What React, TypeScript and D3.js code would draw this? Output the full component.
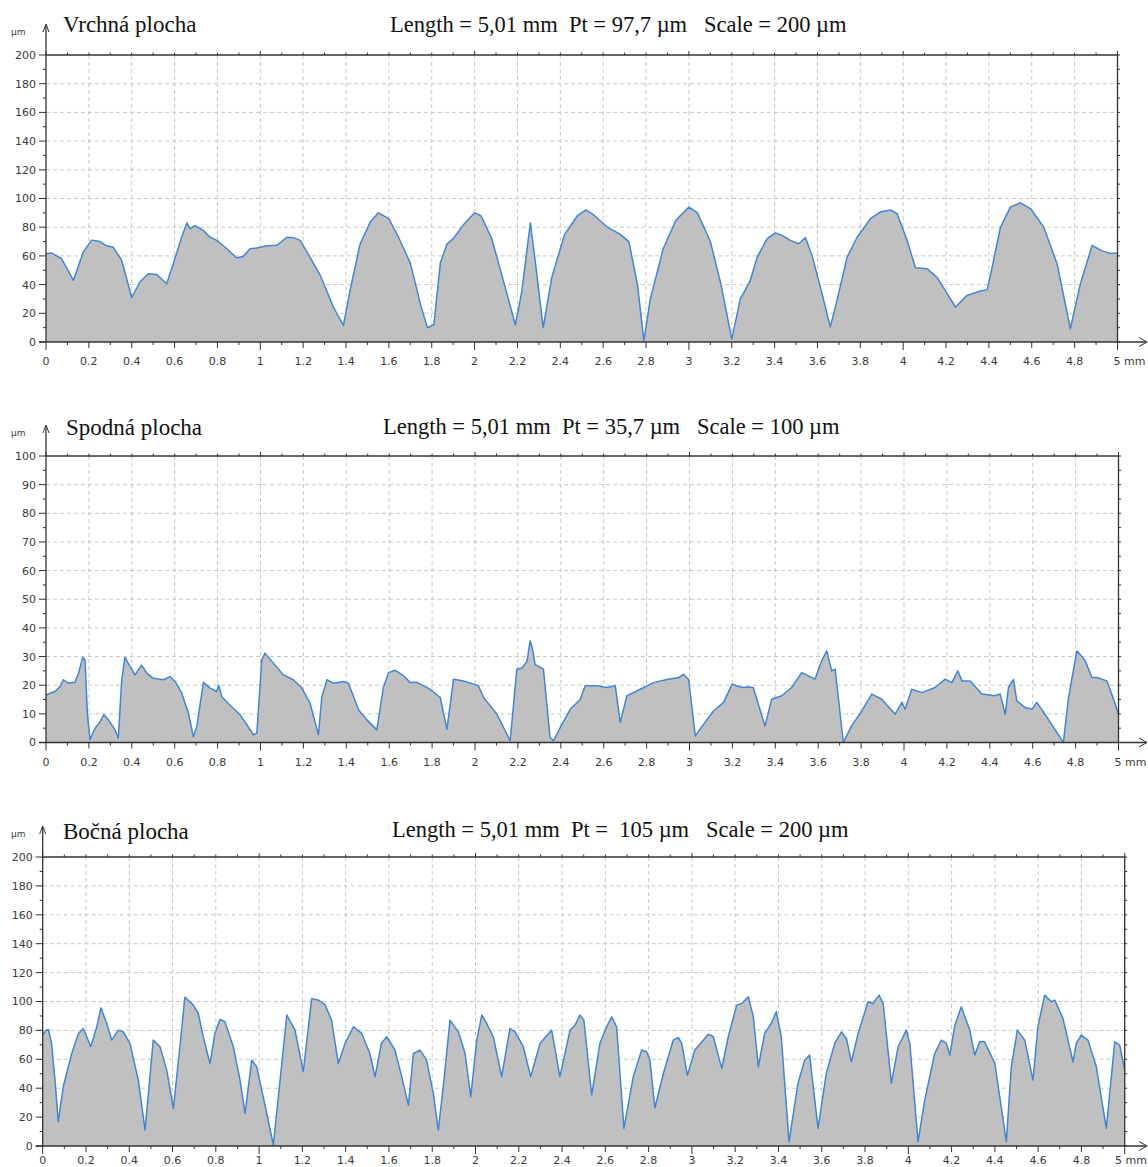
import React from "react";
import * as d3 from "d3";

// ---------- DATA ----------
const xTickLabels = ["0", "0.2", "0.4", "0.6", "0.8", "1", "1.2", "1.4", "1.6", "1.8", "2", "2.2", "2.4", "2.6", "2.8", "3", "3.2", "3.4", "3.6", "3.8", "4", "4.2", "4.4", "4.6", "4.8", "5 mm"];
const xTickValues = [0, 0.2, 0.4, 0.6, 0.8, 1, 1.2, 1.4, 1.6, 1.8, 2, 2.2, 2.4, 2.6, 2.8, 3, 3.2, 3.4, 3.6, 3.8, 4, 4.2, 4.4, 4.6, 4.8, 5];

const titles = ["Vrchná plocha", "Spodná plocha", "Bočná plocha"];
const infos = [
  "Length = 5,01 mm  Pt = 97,7 µm   Scale = 200 µm",
  "Length = 5,01 mm  Pt = 35,7 µm   Scale = 100 µm",
  "Length = 5,01 mm  Pt =  105 µm   Scale = 200 µm",
];
const scales = [200, 100, 200];

// profile points: [position mm, height µm]
const topProfile: [number, number][] = [
  [0, 61.5], [0.027, 62], [0.073, 58], [0.128, 43], [0.174, 62.7], [0.213, 71], [0.252, 70], [0.283, 67], [0.314, 66],
  [0.353, 57], [0.4, 31], [0.439, 42], [0.478, 47.6], [0.517, 47], [0.563, 40.6], [0.594, 54.6], [0.633, 73], [0.657, 83],
  [0.672, 79], [0.696, 81], [0.734, 77.8], [0.766, 73], [0.797, 70.8], [0.844, 65], [0.89, 58.5], [0.921, 59.7], [0.952, 65],
  [0.984, 65.5], [1.03, 67], [1.077, 67.4], [1.124, 73], [1.155, 72.7], [1.186, 70.8], [1.232, 59], [1.28, 46.5], [1.341, 24.4],
  [1.388, 11.6], [1.419, 36], [1.466, 68.5], [1.513, 83.6], [1.551, 90], [1.6, 86], [1.645, 73], [1.7, 55], [1.75, 25],
  [1.78, 10], [1.81, 12], [1.84, 55], [1.87, 68], [1.9, 72], [1.95, 82], [2.0, 90], [2.03, 88], [2.08, 72], [2.13, 45],
  [2.19, 12], [2.22, 35], [2.26, 83], [2.28, 60], [2.32, 10], [2.36, 45], [2.42, 75], [2.48, 88], [2.52, 92], [2.56, 88],
  [2.62, 80], [2.68, 75], [2.72, 70], [2.76, 40], [2.79, 1], [2.82, 30], [2.88, 65], [2.94, 85], [3.0, 94], [3.04, 90],
  [3.1, 70], [3.15, 40], [3.2, 2], [3.24, 30], [3.287, 43], [3.318, 59], [3.365, 72], [3.403, 76], [3.435, 74.3], [3.473, 70.8],
  [3.512, 68.5], [3.544, 72.7], [3.575, 60], [3.614, 38], [3.66, 10.5], [3.691, 29], [3.738, 59], [3.785, 73], [3.847, 86],
  [3.894, 90.6], [3.94, 92], [3.972, 89.4], [4.018, 71], [4.057, 51.8], [4.112, 51], [4.158, 45], [4.205, 33.7], [4.244, 24.4],
  [4.298, 32.5], [4.361, 35.5], [4.392, 36.5], [4.415, 52], [4.454, 80], [4.5, 94], [4.547, 97], [4.594, 93], [4.656, 80],
  [4.718, 54.6], [4.78, 9.3], [4.827, 40.7], [4.882, 67.4], [4.92, 64], [4.967, 61.6], [5.0, 62],
];

const bottomProfile: [number, number][] = [
  [0, 16.6], [0.019, 17.2], [0.042, 17.8], [0.065, 19.5], [0.081, 21.9], [0.104, 20.7], [0.135, 21], [0.151, 24], [0.171, 29.7],
  [0.182, 28.8], [0.193, 10], [0.205, 1], [0.229, 5], [0.252, 7.3], [0.27, 9.7], [0.291, 7.9], [0.322, 4.4], [0.337, 1.5],
  [0.353, 21.9], [0.368, 29.7], [0.392, 26.5], [0.415, 23.6], [0.446, 27], [0.47, 24.2], [0.5, 22.4], [0.547, 21.9], [0.578, 23],
  [0.602, 21.3], [0.633, 17.2], [0.664, 10.2], [0.687, 2], [0.703, 5.6], [0.734, 21], [0.765, 19], [0.796, 17.8], [0.805, 20],
  [0.82, 16], [0.858, 13], [0.905, 9.7], [0.967, 2.7], [0.983, 3.3], [1.006, 28.8], [1.021, 31.2], [1.06, 27.7], [1.107, 23.6],
  [1.153, 21.9], [1.193, 19], [1.231, 13.7], [1.27, 2.7], [1.286, 16], [1.31, 21.9], [1.34, 20.7], [1.387, 21.3], [1.41, 20.7],
  [1.457, 11.4], [1.496, 7.9], [1.542, 4.4], [1.573, 19.2], [1.597, 24.4], [1.628, 25.2], [1.667, 23.3], [1.698, 20.9],
  [1.729, 21], [1.79, 18.6], [1.838, 15.7], [1.869, 4.7], [1.9, 22.1], [1.946, 21.5], [2.016, 19.8], [2.04, 15.7], [2.102, 9.9],
  [2.164, 0.6], [2.195, 25.6], [2.219, 26], [2.243, 28.5], [2.257, 35.5], [2.27, 32], [2.28, 27.3], [2.319, 25.6], [2.35, 1.7],
  [2.366, 0.6], [2.397, 5.2], [2.444, 11.6], [2.49, 15], [2.514, 19.8], [2.568, 19.8], [2.615, 19.2], [2.654, 19.8], [2.677, 7],
  [2.708, 16.3], [2.77, 18.6], [2.833, 20.9], [2.895, 22], [2.95, 22.7], [2.972, 23.8], [2.996, 22], [3.027, 2.3], [3.066, 6.4],
  [3.112, 11], [3.159, 14], [3.198, 20.3], [3.245, 19.2], [3.274, 19.4], [3.297, 19.2], [3.352, 5.8], [3.383, 15.1], [3.43, 16.3],
  [3.476, 19.2], [3.523, 24.4], [3.585, 22.1], [3.616, 28.5], [3.64, 32], [3.663, 25], [3.679, 25.6], [3.694, 15.7], [3.717, 0],
  [3.756, 5.8], [3.803, 11], [3.85, 16.9], [3.896, 15.1], [3.959, 9.9], [3.99, 14], [4.005, 11.6], [4.036, 18.6], [4.083, 17.4],
  [4.145, 19.2], [4.192, 22.1], [4.223, 20.9], [4.251, 25], [4.27, 21.5], [4.309, 21.5], [4.363, 16.9], [4.425, 16.3],
  [4.448, 16.9], [4.472, 9.9], [4.487, 19.2], [4.51, 22], [4.526, 14.5], [4.565, 12.2], [4.596, 11.6], [4.619, 14], [4.673, 8.1],
  [4.743, 0], [4.767, 15.7], [4.806, 32], [4.845, 28.5], [4.876, 22.7], [4.899, 22.7], [4.946, 21.5], [4.977, 15.1], [5.0, 9.9],
];

const sideProfile: [number, number][] = [
  [0, 76.7], [0.015, 80], [0.026, 80.6], [0.041, 71], [0.057, 45.6], [0.072, 16.8], [0.095, 41], [0.134, 64], [0.165, 77.9],
  [0.188, 81.3], [0.222, 68.7], [0.25, 82.5], [0.269, 95.6], [0.296, 84.8], [0.319, 73.3], [0.349, 80.2], [0.372, 79], [0.403, 71],
  [0.442, 45.6], [0.473, 11], [0.511, 73.3], [0.542, 68.7], [0.573, 52.5], [0.604, 26], [0.634, 68.7], [0.657, 103], [0.673, 100.9],
  [0.696, 97.5], [0.719, 91.7], [0.742, 75.6], [0.773, 57], [0.796, 77.9], [0.819, 87.6], [0.842, 86], [0.881, 68.7], [0.912, 45.6],
  [0.935, 22.6], [0.966, 59.4], [0.989, 54.8], [1.019, 34.1], [1.066, 0.7], [1.089, 34.1], [1.128, 90.6], [1.166, 80.2],
  [1.204, 51.4], [1.243, 102], [1.274, 101], [1.304, 98], [1.335, 87], [1.366, 57], [1.397, 71], [1.436, 82.5], [1.474, 77.9],
  [1.512, 64], [1.536, 48], [1.565, 71], [1.59, 75.6], [1.628, 66.4], [1.659, 48], [1.69, 28.3], [1.713, 64], [1.744, 66.4],
  [1.774, 59.4], [1.805, 36.4], [1.828, 11], [1.851, 41], [1.882, 87], [1.921, 79], [1.952, 64], [1.978, 34.1], [2.006, 73.3],
  [2.029, 90.6], [2.052, 84.8], [2.082, 75.6], [2.121, 48], [2.159, 81.3], [2.183, 79], [2.221, 68.7], [2.255, 48], [2.298, 71],
  [2.352, 80.2], [2.39, 48], [2.437, 80.2], [2.46, 83.6], [2.483, 90.6], [2.501, 87], [2.537, 35.3], [2.575, 71], [2.606, 82.5],
  [2.629, 89.4], [2.652, 82.5], [2.686, 12.2], [2.729, 48], [2.768, 66.4], [2.791, 65.2], [2.806, 59.4], [2.829, 26.3],
  [2.868, 50.2], [2.914, 73.3], [2.937, 75.1], [2.953, 71], [2.979, 49], [3.014, 66.4], [3.076, 77.4], [3.099, 75.6],
  [3.138, 53.7], [3.168, 75.6], [3.207, 97.5], [3.23, 98.6], [3.261, 103.2], [3.284, 89.4], [3.307, 54.8], [3.336, 77.9],
  [3.367, 84.8], [3.39, 92.9], [3.413, 75.6], [3.449, 3], [3.49, 43.3], [3.521, 59.4], [3.544, 62.9], [3.583, 12.2], [3.621, 50.2],
  [3.66, 71], [3.691, 79], [3.714, 74.4], [3.737, 58.3], [3.768, 77.9], [3.814, 99.8], [3.837, 98.6], [3.865, 104.4], [3.884, 98.6],
  [3.922, 43.3], [3.953, 68.7], [3.991, 80.2], [4.007, 71], [4.045, 3], [4.076, 31.8], [4.122, 64], [4.153, 73.3], [4.176, 71],
  [4.192, 62.9], [4.215, 83.6], [4.245, 96.3], [4.284, 80.2], [4.307, 62.9], [4.33, 72.1], [4.353, 72.1], [4.4, 57.1], [4.453, 3],
  [4.476, 54.8], [4.504, 80.2], [4.538, 73.3], [4.576, 45.6], [4.599, 82.5], [4.63, 104.4], [4.661, 99.8], [4.677, 101],
  [4.715, 88.2], [4.761, 58.3], [4.776, 71], [4.799, 76.7], [4.83, 73.3], [4.869, 54.8], [4.915, 12.2], [4.954, 72.1],
  [4.977, 69.8], [5.0, 52.5],
];

const profiles = [topProfile, bottomProfile, sideProfile];

// ---------- LAYOUT ----------
const layouts = [
  { left: 46, right: 1117.5, top: 55, bottom: 342, titleX: 63, titleY: 32, infoX: 390, infoY: 32, gridStep: 20, minorStep: 10, labelDy: 23 },
  { left: 46, right: 1118.5, top: 456, bottom: 742.5, titleX: 66, titleY: 435, infoX: 383, infoY: 434, gridStep: 10, minorStep: 5, labelDy: 23 },
  { left: 42.7, right: 1124.7, top: 857, bottom: 1146, titleX: 63, titleY: 839, infoX: 392, infoY: 837, gridStep: 20, minorStep: 10, labelDy: 18 },
];

const FILL = "#c0c0c0";
const LINE = "#3f86d6";
const GRID = "#c6c6c6";
const AXIS = "#333333";
const LABEL = "#3a3a3a";

function Panel({ idx }: { idx: number }) {
  const L = layouts[idx];
  const data = profiles[idx];
  const yMax = scales[idx];
  const x = d3.scaleLinear().domain([0, 5]).range([L.left, L.right]);
  const y = d3.scaleLinear().domain([0, yMax]).range([L.bottom, L.top]);

  const area = d3.area<[number, number]>().x((d) => x(d[0])).y0(y(0)).y1((d) => y(d[1]));
  const line = d3.line<[number, number]>().x((d) => x(d[0])).y((d) => y(d[1]));

  const gridY = d3.range(L.gridStep, yMax + 0.001, L.gridStep).filter((v) => v < yMax);
  const minorY = d3.range(0, yMax + 0.001, L.minorStep);
  const majorY = d3.range(0, yMax + 0.001, L.gridStep);
  const minorX = d3.range(0, 51).map((i) => i / 10);
  const gridX = xTickValues.filter((v) => v > 0 && v < 5);
  const font = "'DejaVu Sans', Verdana, sans-serif";
  const serif = "'Liberation Serif', 'Times New Roman', serif";

  return (
    <g>
      {/* grid */}
      {gridY.map((v) => (
        <line key={"gy" + v} x1={L.left} x2={L.right} y1={y(v)} y2={y(v)} stroke={GRID} strokeWidth={1} strokeDasharray="4,3" />
      ))}
      {gridX.map((v) => (
        <line key={"gx" + v} x1={x(v)} x2={x(v)} y1={L.top} y2={L.bottom} stroke={GRID} strokeWidth={1} strokeDasharray="4,3" />
      ))}
      {/* profile */}
      <path d={area(data) || ""} fill={FILL} />
      <path d={line(data) || ""} fill="none" stroke={LINE} strokeWidth={1.5} strokeLinejoin="round" />

      {/* top border */}
      <line x1={L.left} x2={L.right} y1={L.top} y2={L.top} stroke={AXIS} strokeWidth={1.3} />
      {minorX.map((v, i) => (
        <line key={"tt" + i} x1={x(v)} x2={x(v)} y1={L.top} y2={L.top - (i % 10 === 0 ? 4 : 2.5)} stroke={AXIS} strokeWidth={1} />
      ))}
      {/* right border */}
      <line x1={L.right} x2={L.right} y1={L.top} y2={L.bottom} stroke={AXIS} strokeWidth={1.3} />
      {minorY.map((v) => (
        <line key={"rt" + v} x1={L.right} x2={L.right + 2.5} y1={y(v)} y2={y(v)} stroke={AXIS} strokeWidth={1} />
      ))}
      {/* left axis with arrow */}
      <line x1={L.left} x2={L.left} y1={L.bottom} y2={L.top - 30} stroke={AXIS} strokeWidth={1.3} />
      <path d={`M${L.left - 3},${L.top - 23} L${L.left},${L.top - 31} L${L.left + 3},${L.top - 23}`} fill="none" stroke={AXIS} strokeWidth={1} />
      {minorY.map((v) => {
        const major = majorY.includes(v);
        return <line key={"lt" + v} x1={L.left} x2={L.left - (major ? 7 : 3)} y1={y(v)} y2={y(v)} stroke={AXIS} strokeWidth={1} />;
      })}
      {majorY.map((v) => (
        <text key={"yl" + v} x={L.left - 10} y={y(v)} dy="0.36em" textAnchor="end" fontFamily={font} fontSize={11} fill={LABEL}>
          {v}
        </text>
      ))}
      <text x={11} y={L.top - 20} fontFamily={font} fontSize={9} fill={LABEL}>µm</text>

      {/* bottom axis with arrow */}
      <line x1={L.left - 7} x2={1146} y1={L.bottom} y2={L.bottom} stroke={AXIS} strokeWidth={1.3} />
      <path d={`M1139,${L.bottom - 4.5} L1147,${L.bottom} L1139,${L.bottom + 4.5}`} fill="none" stroke={AXIS} strokeWidth={1} />
      {minorX.map((v, i) => (
        <line key={"bt" + i} x1={x(v)} x2={x(v)} y1={L.bottom} y2={L.bottom + (i % 10 === 0 ? 8 : i % 2 === 0 ? 6 : 3)} stroke={AXIS} strokeWidth={1} />
      ))}
      {xTickValues.map((v, i) => {
        const last = i === xTickValues.length - 1;
        const lastX = Math.min(x(v) - 4, 1146 - 31);
        return (
          <text key={"xl" + v} x={last ? lastX : x(v)} y={L.bottom + L.labelDy} textAnchor={last ? "start" : "middle"} fontFamily={font} fontSize={11} fill={LABEL}>
            {xTickLabels[i]}
          </text>
        );
      })}

      {/* titles */}
      <text x={L.titleX} y={L.titleY} fontFamily={serif} fontSize={23} fill="#111">
        {titles[idx]}
      </text>
      <text x={L.infoX} y={L.infoY} fontFamily={serif} fontSize={22.5} fill="#111" style={{ whiteSpace: "pre" }}>
        {infos[idx]}
      </text>
    </g>
  );
}

export default function App() {
  return (
    <svg width={1148} height={1167} style={{ position: "absolute", left: 0, top: 0, background: "#fff" }}>
      <rect x={0} y={0} width={1148} height={1167} fill="#fff" />
      <Panel idx={0} />
      <Panel idx={1} />
      <Panel idx={2} />
    </svg>
  );
}
